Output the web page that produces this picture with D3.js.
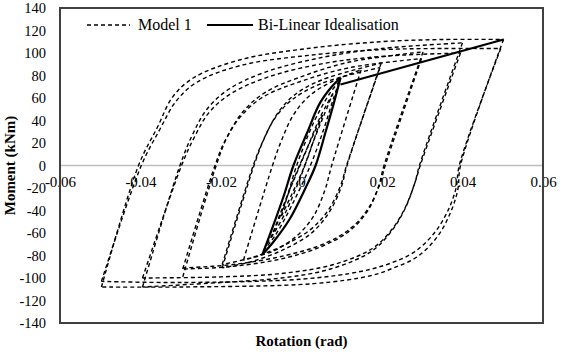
<!DOCTYPE html>
<html>
<head>
<meta charset="utf-8">
<script src="https://cdn.jsdelivr.net/npm/d3@7"></script>
<style>
  body { margin: 0; background: #fff; }
  text { font-family: "Liberation Serif", "Times New Roman", serif; fill: #000; }
</style>
</head>
<body>
<div id="chart"></div>
<script>
// tick labels
var xTicks = [-0.06, -0.04, -0.02, 0, 0.02, 0.04, 0.06];
var yTicks = [-140, -120, -100, -80, -60, -40, -20, 0, 20, 40, 60, 80, 100, 120, 140];

// Model 1 - hysteresis branches [rotation (rad), moment (kNm)]
var loop05aUp = [[-0.0497,-108],[-0.0405,0],[-0.0358,34],[-0.032,61],[-0.0268,78],[-0.0152,94],[0.0015,104],[0.0196,110],[0.035,112],[0.0502,112]];
var loop05aDown = [[0.0502,112],[0.0395,0],[0.0388,-22],[0.037,-42],[0.0338,-63],[0.0288,-81],[0.0229,-91],[0.0171,-98],[0.003,-105],[-0.03,-108],[-0.0497,-108]];
var loop05bUp = [[-0.0497,-103],[-0.0398,0],[-0.0352,32],[-0.0312,57],[-0.026,74],[-0.015,89],[0.002,98],[0.02,103],[0.035,104],[0.0495,104]];
var loop05bDown = [[0.0495,104],[0.0392,0],[0.0384,-20],[0.0364,-40],[0.033,-60],[0.028,-77],[0.022,-87],[0.015,-94],[0.0,-101],[-0.03,-104],[-0.0497,-103]];
var loop04aUp = [[-0.0395,-108],[-0.0302,0],[-0.027,28],[-0.0235,50],[-0.018,68],[-0.009,83],[0.005,96],[0.02,104],[0.04,109]];
var loop04aDown = [[0.04,109],[0.0293,0],[0.0282,-15],[0.0255,-40],[0.022,-60],[0.0171,-77],[0.0072,-92],[-0.005,-100],[-0.02,-104],[-0.0395,-108]];
var loop04bUp = [[-0.0395,-100],[-0.0298,0],[-0.0265,26],[-0.023,47],[-0.0175,64],[-0.008,79],[0.006,91],[0.02,97],[0.0395,100]];
var loop04bDown = [[0.0395,100],[0.0295,0],[0.0283,-14],[0.0257,-38],[0.0222,-58],[0.0175,-74],[0.008,-88],[-0.005,-96],[-0.02,-99],[-0.0395,-100]];
var loop03aUp = [[-0.0295,-99],[-0.0212,0],[-0.0185,25],[-0.0145,48],[-0.009,65],[0.0,79],[0.012,92],[0.0302,101]];
var loop03aDown = [[0.0302,101],[0.0205,0],[0.0192,-18],[0.0165,-40],[0.012,-58],[0.005,-72],[-0.005,-83],[-0.018,-90],[-0.0295,-92]];
var loop03bUp = [[-0.0295,-92],[-0.0215,0],[-0.019,22],[-0.015,44],[-0.0095,61],[0.0,75],[0.012,87],[0.0298,95]];
var loop03bDown = [[0.0298,95],[0.0208,0],[0.0195,-16],[0.0168,-37],[0.0125,-55],[0.006,-69],[-0.004,-80],[-0.017,-88],[-0.0295,-91]];
var loop02aUp = [[-0.0197,-91],[-0.0118,0],[-0.0095,22],[-0.0062,45],[-0.002,62],[0.005,76],[0.0198,91]];
var loop02aDown = [[0.0198,91],[0.0113,0],[0.0098,-20],[0.0068,-42],[0.0025,-60],[-0.004,-74],[-0.012,-85],[-0.0197,-91]];
var loop02bUp = [[-0.0197,-88],[-0.012,0],[-0.0098,20],[-0.0066,42],[-0.0025,58],[0.005,73],[0.0195,87]];
var loop02bDown = [[0.0195,87],[0.0112,0],[0.0097,-18],[0.0066,-40],[0.0022,-57],[-0.005,-72],[-0.0125,-82],[-0.0197,-88]];
var loop015Up = [[-0.0144,-84],[-0.0072,0],[-0.005,22],[-0.002,45],[0.002,62],[0.0078,75],[0.0148,85]];
var loop015Down = [[0.0148,85],[0.0075,0],[0.0058,-22],[0.003,-45],[-0.001,-62],[-0.007,-76],[-0.0144,-84]];
var loop01Up = [[-0.0095,-76],[-0.0065,-62],[-0.0025,-36],[0.0022,0],[0.0055,32],[0.0078,58],[0.0094,75]];
var loop01Down = [[0.0094,75],[0.007,64],[0.003,38],[-0.0012,0],[-0.0038,-30],[-0.0068,-58],[-0.0095,-76]];
var loop0075Up = [[-0.0075,-64],[-0.004,-42],[0.0,-8],[0.0028,20],[0.0055,44],[0.0078,64]];
var loop0075Down = [[0.0078,64],[0.0045,42],[0.0008,10],[-0.0025,-18],[-0.0052,-42],[-0.0075,-64]];
var loop005Up = [[-0.005,-45],[-0.0022,-24],[0.0008,0],[0.003,22],[0.0052,45]];
var loop005Down = [[0.0052,45],[0.0025,24],[-0.0005,0],[-0.003,-22],[-0.005,-45]];

// Bi-Linear Idealisation
var bilinearLoopUp = [[-0.0097,-79],[-0.007,-68],[-0.003,-48],[0.001,-20],[0.0035,0],[0.006,30],[0.008,55],[0.0097,78]];
var bilinearLoopDown = [[0.0097,78],[0.0075,70],[0.0045,55],[0.0015,30],[-0.002,0],[-0.0045,-28],[-0.0075,-58],[-0.0097,-79]];
var bilinearLine = [[0.0097,72],[0.0502,112]];

var model1Branches = [
  loop05aUp, loop05aDown, loop05bUp, loop05bDown,
  loop04aUp, loop04aDown, loop04bUp, loop04bDown,
  loop03aUp, loop03aDown, loop03bUp, loop03bDown,
  loop02aUp, loop02aDown, loop02bUp, loop02bDown,
  loop015Up, loop015Down, loop01Up, loop01Down,
  loop0075Up, loop0075Down, loop005Up, loop005Down
];
var bilinearBranches = [bilinearLoopUp, bilinearLoopDown, bilinearLine];

var W = 561, H = 352;
var plot = { left: 60, right: 543, top: 8, bottom: 323 };
var serif = "'Liberation Serif', 'Times New Roman', serif";

var svg = d3.select("#chart").append("svg")
  .attr("width", W)
  .attr("height", H)
  .attr("font-family", serif);

svg.append("rect").attr("width", W).attr("height", H).attr("fill", "#fff");

var x = d3.scaleLinear().domain([-0.06, 0.06]).range([plot.left, plot.right]);
var y = d3.scaleLinear().domain([-140, 140]).range([plot.bottom, plot.top]);

// zero line
svg.append("line")
  .attr("x1", plot.left).attr("x2", plot.right)
  .attr("y1", y(0)).attr("y2", y(0))
  .attr("stroke", "#bfbfbf").attr("stroke-width", 1.5);

// y axis labels
var yAxis = d3.axisLeft(y)
  .tickValues(yTicks)
  .tickSize(0)
  .tickPadding(14)
  .tickFormat(function(d){ return d < 0 ? "-" + Math.abs(d) : String(d); });
var gy = svg.append("g").attr("transform", "translate(" + plot.left + ",0)").call(yAxis)
  .attr("font-family", serif).attr("font-size", 14.5);
gy.select(".domain").remove();

// x axis labels, sitting just under the zero line
var xAxis = d3.axisBottom(x)
  .tickValues(xTicks)
  .tickSize(0)
  .tickPadding(11)
  .tickFormat(function(d){ return d === 0 ? "0" : (d < 0 ? "-" : "") + Math.abs(d).toFixed(2); });
var gx = svg.append("g").attr("transform", "translate(0," + y(0) + ")").call(xAxis)
  .attr("font-family", serif).attr("font-size", 15);
gx.select(".domain").remove();

var line = d3.line()
  .x(function(d){ return x(d[0]); })
  .y(function(d){ return y(d[1]); })
  .curve(d3.curveCatmullRom.alpha(0.5));

// Model 1 dashed loops
svg.append("g").selectAll("path")
  .data(model1Branches)
  .enter().append("path")
  .attr("d", line)
  .attr("fill", "none")
  .attr("stroke", "#000")
  .attr("stroke-width", 1.4)
  .attr("stroke-dasharray", "4,3");

// bilinear idealisation
svg.append("g").selectAll("path")
  .data(bilinearBranches)
  .enter().append("path")
  .attr("d", line)
  .attr("fill", "none")
  .attr("stroke", "#000")
  .attr("stroke-width", 2.2);

// plot border
svg.append("rect")
  .attr("x", plot.left).attr("y", plot.top)
  .attr("width", plot.right - plot.left).attr("height", plot.bottom - plot.top)
  .attr("fill", "none").attr("stroke", "#404040").attr("stroke-width", 2);

// legend
var legend = svg.append("g").attr("transform", "translate(0,25)");
legend.append("line").attr("x1", 87).attr("x2", 130).attr("y1", 0).attr("y2", 0)
  .attr("stroke", "#000").attr("stroke-width", 1.4).attr("stroke-dasharray", "4,3");
legend.append("text").attr("x", 138).attr("y", 5).attr("font-size", 16).text("Model 1");
legend.append("line").attr("x1", 207).attr("x2", 253).attr("y1", 0).attr("y2", 0)
  .attr("stroke", "#000").attr("stroke-width", 2.2);
legend.append("text").attr("x", 258).attr("y", 5).attr("font-size", 16).text("Bi-Linear Idealisation");

// axis titles
svg.append("text")
  .attr("transform", "translate(15," + y(0) + ") rotate(-90)")
  .attr("text-anchor", "middle")
  .attr("font-size", 15).attr("font-weight", "bold")
  .text("Moment (kNm)");
svg.append("text")
  .attr("x", x(0)).attr("y", 346)
  .attr("text-anchor", "middle")
  .attr("font-size", 15).attr("font-weight", "bold")
  .text("Rotation (rad)");
</script>
</body>
</html>
